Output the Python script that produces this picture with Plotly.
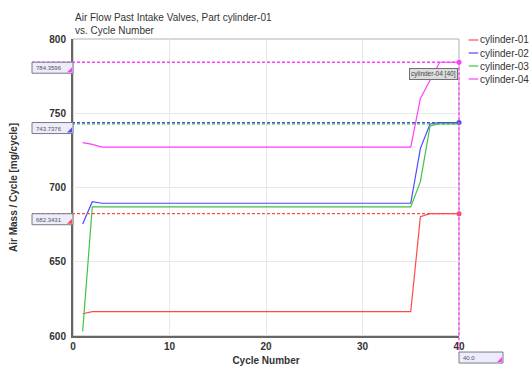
import plotly.graph_objects as go

# Cycle-by-cycle air mass per cylinder (vertices of each trace)
cyl01_cycle = [1, 2, 35, 36, 37, 40]
cyl01_mass = [615.0, 616.4, 616.4, 680.3, 682.3431, 682.3431]

cyl02_cycle = [1, 2, 3, 35, 36, 37, 38, 40]
cyl02_mass = [675.4, 690.4, 689.4, 689.4, 726.4, 742.8, 743.7376, 743.7376]

cyl03_cycle = [1, 2, 35, 36, 37, 38, 40]
cyl03_mass = [603.0, 686.9, 686.9, 703.9, 741.4, 742.9, 742.9]

cyl04_cycle = [1, 2, 3, 35, 36, 37, 38, 40]
cyl04_mass = [730.2, 729.0, 727.2, 727.2, 760.0, 772.0, 784.3596, 784.3596]

names = ["cylinder-01", "cylinder-02", "cylinder-03", "cylinder-04"]
colors = ["#ff4a4a", "#4a4aff", "#3fc43f", "#ff3dff"]

x_ticks = [0, 10, 20, 30, 40]
y_ticks = [600, 650, 700, 750, 800]
x_range = [0, 40]
y_range = [600, 800]

cursor_cycle = 40
cursor_label = "cylinder-04 [40]"
title_text = "Air Flow Past Intake Valves, Part cylinder-01<br>vs. Cycle Number"

series = [
    (cyl01_cycle, cyl01_mass),
    (cyl02_cycle, cyl02_mass),
    (cyl03_cycle, cyl03_mass),
    (cyl04_cycle, cyl04_mass),
]

font_family = "Liberation Sans, Arial, sans-serif"
fig = go.Figure()

for (cx, cy), name, col in zip(series, names, colors):
    fig.add_trace(go.Scatter(x=cx, y=cy, mode="lines", name=name,
                             line=dict(color=col, width=1.2), showlegend=False))

shapes = []
annotations = []

# Frame around the plot area
shapes.append(dict(type="rect", xref="paper", yref="paper", x0=0, x1=1, y0=0, y1=1,
                   line=dict(color="#b0b0b0", width=1), layer="below"))

def paper_x(v):
    return (v - x_range[0]) / (x_range[1] - x_range[0])

def paper_y(v):
    return (v - y_range[0]) / (y_range[1] - y_range[0])

# readout box (pixel-sized) with a coloured flag in its lower-right corner
def readout_box(xa, ya, yref, left, right, col):
    box = dict(type="rect", xref="paper", yref=yref, xsizemode="pixel", ysizemode="pixel",
               xanchor=xa, yanchor=ya, x0=left, x1=right, y0=-11, y1=0,
               fillcolor="#ececfa", line=dict(color="#7a7a8a", width=1))
    flag = dict(type="path", xref="paper", yref=yref, xsizemode="pixel", ysizemode="pixel",
                xanchor=xa, yanchor=ya,
                path=f"M{right - 1},-10 L{right - 6},-10 L{right - 1},-5 Z",
                fillcolor=col, line=dict(width=0))
    return [box, flag]

# Cursor readouts: horizontal dashed lines at each cylinder's value at the cursor cycle
readout_x0 = -41 / 386
cx_paper = paper_x(cursor_cycle)
readout = [(0, cyl01_mass[-1]), (2, cyl03_mass[-1]), (1, cyl02_mass[-1]), (3, cyl04_mass[-1])]
for idx, val in readout:
    shapes.append(dict(type="line", xref="paper", yref="y", x0=readout_x0, x1=cx_paper,
                       y0=val, y1=val, line=dict(color=colors[idx], width=1.3, dash="3px,2px")))

for idx, val in [(0, cyl01_mass[-1]), (1, cyl02_mass[-1]), (3, cyl04_mass[-1])]:
    shapes.extend(readout_box(0, val, "y", -41, 0, colors[idx]))
    annotations.append(dict(xref="paper", yref="y", x=0, y=val, xanchor="left", yanchor="top",
                            xshift=-39, yshift=-1, text=f"{val:.4f}", showarrow=False,
                            font=dict(family=font_family, size=6, color="#555")))

# Vertical cursor at the selected cycle
cursor_bottom = -0.054
shapes.append(dict(type="line", xref="paper", yref="paper", x0=cx_paper, x1=cx_paper,
                   y0=paper_y(cyl04_mass[-1]), y1=cursor_bottom,
                   line=dict(color=colors[3], width=1.3, dash="3px,2px")))
shapes.extend(readout_box(cx_paper, cursor_bottom, "paper", 0, 44, colors[3]))
annotations.append(dict(xref="paper", yref="paper", x=cx_paper, y=cursor_bottom, xanchor="left",
                        yanchor="top", xshift=2, yshift=-1, text=f"{cursor_cycle:.1f}",
                        showarrow=False, font=dict(family=font_family, size=6, color="#555")))

# End-of-run markers
for idx in [0, 1, 3]:
    cx, cy = series[idx]
    fig.add_trace(go.Scatter(x=[cx[-1]], y=[cy[-1]], mode="markers", showlegend=False,
                             marker=dict(size=5, color=colors[idx]), cliponaxis=False))

annotations.append(dict(xref="x", yref="y", x=cursor_cycle, y=cyl04_mass[-1], xanchor="right",
                        yanchor="top", xshift=-1, yshift=-6, text=cursor_label, showarrow=False,
                        font=dict(family=font_family, size=6.5, color="#444"),
                        bgcolor="#dcdcdc", bordercolor="#707070", borderwidth=1, borderpad=1))

# Chart title, left-aligned above the plot
annotations.append(dict(xref="paper", yref="paper", x=0, y=1, xanchor="left", yanchor="bottom",
                        yshift=1, text=title_text, showarrow=False, align="left",
                        font=dict(family=font_family, size=10, color="#333")))

# Legend drawn beside the plot
for i, (name, col) in enumerate(zip(names, colors)):
    yy = 1 - (i * 13 + 1) / 297
    shapes.append(dict(type="line", xref="paper", yref="paper", x0=1.025, x1=1.05,
                       y0=yy, y1=yy, line=dict(color=col, width=1.2)))
    annotations.append(dict(xref="paper", yref="paper", x=1.05, y=yy, xanchor="left",
                            yanchor="middle", text=name, showarrow=False,
                            font=dict(family=font_family, size=10, color="#333")))

fig.update_layout(
    width=531, height=369,
    margin=dict(l=73, r=72, t=39, b=33, autoexpand=False),
    paper_bgcolor="white", plot_bgcolor="white",
    font=dict(family=font_family, size=10, color="#333"),
    shapes=shapes,
    annotations=annotations,
    showlegend=False,
)

fig.update_xaxes(range=x_range, tickvals=x_ticks, showgrid=True, gridcolor="#e8e8e8",
                 zeroline=False, showline=True, linecolor="#666", linewidth=2,
                 ticks="", automargin=False, tickfont=dict(size=10, weight="bold", color="#333"),
                 title=dict(text="Cycle Number", standoff=6,
                            font=dict(size=10, weight="bold", color="#333")))
fig.update_yaxes(range=y_range, tickvals=y_ticks, showgrid=True, gridcolor="#e8e8e8",
                 zeroline=False, showline=True, linecolor="#666", linewidth=2,
                 ticks="", ticklabelstandoff=3, automargin=False,
                 tickfont=dict(size=10, weight="bold", color="#333"),
                 title=dict(text="Air Mass / Cycle [mg/cycle]", standoff=30,
                            font=dict(size=10, weight="bold", color="#333")))

fig.write_html("out.html")
